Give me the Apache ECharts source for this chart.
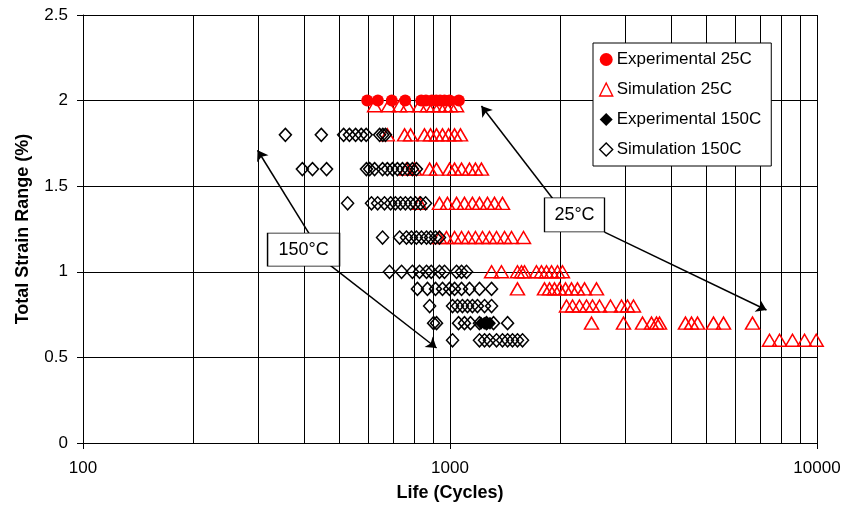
<!DOCTYPE html>
<html>
<head>
<meta charset="utf-8">
<script src="https://cdn.jsdelivr.net/npm/echarts@6/dist/echarts.min.js"></script>
<style>
html,body{margin:0;padding:0;background:#fff;}
#chart{width:849px;height:508px;}
</style>
</head>
<body>
<div id="chart"></div>
<script>
// ---------- data ----------
const seriesNames = ['Experimental 25C', 'Simulation 25C', 'Experimental 150C', 'Simulation 150C'];
const xMajorTicks = [100, 1000, 10000];
const xMinorGrid = [200, 300, 400, 500, 600, 700, 800, 900, 2000, 3000, 4000, 5000, 6000, 7000, 8000, 9000];

// Experimental 25C : strain 2.0 %
const exp25Strain = 2.0;
const exp25Life = [595, 636, 694, 755, 835, 860, 893, 917, 940, 966, 997, 1057];

// Simulation 25C : lives per strain level
const sim25Levels = [1.97, 1.8, 1.6, 1.4, 1.2, 1.0, 0.9, 0.8, 0.7, 0.6];
const sim25Life_197 = [623, 680, 729, 766, 826, 868, 902, 936, 972, 1003, 1042];
const sim25Life_18 = [675, 752, 781, 852, 885, 919, 954, 991, 1029, 1068];
const sim25Life_16 = [761, 800, 880, 919, 997, 1029, 1075, 1130, 1173, 1218];
const sim25Life_14 = [826, 936, 984, 1042, 1095, 1151, 1203, 1265, 1322, 1390];
const sim25Life_12 = [936, 978, 1029, 1075, 1123, 1173, 1226, 1281, 1339, 1408, 1471, 1586];
const sim25Life_10 = [1298, 1381, 1527, 1566, 1596, 1720, 1775, 1832, 1891, 1963, 2025];
const sim25Life_09 = [1527, 1809, 1867, 1926, 1988, 2064, 2143, 2225, 2326, 2507];
const sim25Life_08 = [2077, 2157, 2253, 2355, 2445, 2555, 2737, 2933, 3045, 3162];
const sim25Life_07 = [2430, 2970, 3346, 3540, 3653, 3723, 4381, 4550, 4725, 5224, 5563, 6672];
const sim25Life_06 = [7423, 7904, 8574, 9247, 9950];
const sim25Lives = [sim25Life_197, sim25Life_18, sim25Life_16, sim25Life_14, sim25Life_12,
                    sim25Life_10, sim25Life_09, sim25Life_08, sim25Life_07, sim25Life_06];

// Experimental 150C : strain 0.7 %
const exp150Strain = 0.7;
const exp150Life = [1215, 1240, 1265, 1285];

// Simulation 150C : lives per strain level
const sim150Levels = [1.8, 1.6, 1.4, 1.2, 1.0, 0.9, 0.8, 0.7, 0.6];
const sim150Life_18 = [356, 446, 513, 532, 553, 573, 591, 643, 656, 667];
const sim150Life_16 = [396, 422, 461, 592, 604, 623, 655, 675, 697, 719, 742, 766, 790, 810];
const sim150Life_14 = [526, 611, 635, 663, 689, 710, 733, 756, 781, 805, 831, 858];
const sim150Life_12 = [655, 729, 761, 785, 810, 836, 863, 885, 913, 936];
const sim150Life_10 = [684, 738, 790, 826, 863, 889, 936, 966, 1042, 1075, 1109];
const sim150Life_09 = [815, 868, 913, 954, 997, 1029, 1075, 1130, 1203, 1298];
const sim150Life_08 = [880, 1016, 1048, 1081, 1116, 1151, 1188, 1242, 1298];
const sim150Life_07 = [902, 919, 1055, 1095, 1137, 1203, 1257, 1314, 1435];
const sim150Life_06 = [1016, 1203, 1242, 1281, 1339, 1390, 1435, 1480, 1527, 1576];
const sim150Lives = [sim150Life_18, sim150Life_16, sim150Life_14, sim150Life_12, sim150Life_10,
                     sim150Life_09, sim150Life_08, sim150Life_07, sim150Life_06];

// annotations (data units: [life, strain])
const arrow150Up = [[414, 1.22], [299, 1.71]];
const arrow150Down = [[470, 1.04], [919, 0.555]];
const arrow25Up = [[1902, 1.43], [1218, 1.968]];
const arrow25Down = [[2636, 1.232], [7285, 0.777]];
const label150 = {text: '150°C', at: [399, 1.13]};
const label25 = {text: '25°C', at: [2184, 1.332]};

// ---------- build ----------
function pairs(lives, strain) { return lives.map(v => [v, strain]); }
function levelPairs(levels, lives) {
  let out = [];
  levels.forEach((s, i) => { out = out.concat(pairs(lives[i], s)); });
  return out;
}
const FONT = 'Liberation Sans, Arial, sans-serif';
const RED = '#FF0000';
const chart = echarts.init(document.getElementById('chart'), null, {renderer: 'canvas'});

const option = {
  animation: false,
  backgroundColor: '#fff',
  textStyle: {fontFamily: FONT, color: '#000'},
  grid: {left: 83, right: 32, top: 15, bottom: 65, containLabel: false},
  legend: {
    data: [
      {name: seriesNames[0], icon: 'circle', itemStyle: {color: RED, borderWidth: 0}},
      {name: seriesNames[1], icon: 'triangle', itemStyle: {color: 'rgba(0,0,0,0)', borderColor: RED, borderWidth: 1.4}},
      {name: seriesNames[2], icon: 'diamond', itemStyle: {color: '#000', borderWidth: 0}},
      {name: seriesNames[3], icon: 'diamond', itemStyle: {color: 'rgba(0,0,0,0)', borderColor: '#000', borderWidth: 1.4}}
    ],
    orient: 'vertical',
    left: 593, top: 43,
    padding: [8, 10, 8, 6],
    itemGap: 13,
    itemWidth: 13, itemHeight: 13,
    backgroundColor: '#fff',
    borderColor: '#000', borderWidth: 1, borderRadius: 0,
    selectedMode: false,
    textStyle: {fontFamily: FONT, fontSize: 17, color: '#000', lineHeight: 17, padding: [0, 0, 0, -1]}
  },
  xAxis: {
    type: 'log', logBase: 10, min: 100, max: 10000,
    name: 'Life (Cycles)', nameLocation: 'middle', nameGap: 41,
    nameTextStyle: {fontFamily: FONT, fontWeight: 'bold', fontSize: 18, color: '#000'},
    axisLine: {show: true, onZero: false, lineStyle: {color: '#000', width: 1}},
    axisTick: {show: true, length: 6, lineStyle: {color: '#000'}},
    axisLabel: {color: '#000', fontSize: 17, margin: 17, fontFamily: FONT,
      formatter: v => String(xMajorTicks.find(t => Math.abs(t - v) / t < 1e-6) || Math.round(v))},
    splitLine: {show: true, lineStyle: {color: '#000', width: 1}}
  },
  yAxis: {
    type: 'value', min: 0, max: 2.5, interval: 0.5,
    name: 'Total Strain Range (%)', nameLocation: 'middle', nameGap: 51,
    nameTextStyle: {fontFamily: FONT, fontWeight: 'bold', fontSize: 18, color: '#000'},
    axisLine: {show: true, onZero: false, lineStyle: {color: '#000', width: 1}},
    axisTick: {show: true, length: 6, lineStyle: {color: '#000'}},
    axisLabel: {color: '#000', fontSize: 17, margin: 15, fontFamily: FONT},
    splitLine: {show: true, lineStyle: {color: '#000', width: 1}}
  },
  series: [
    {
      name: '_grid', type: 'scatter', data: [], silent: true, z: 1,
      markLine: {
        silent: true, z: 1, symbol: 'none', animation: false,
        label: {show: false},
        lineStyle: {color: '#000', width: 1, type: 'solid'},
        emphasis: {disabled: true},
        data: xMinorGrid.map(v => ({xAxis: v}))
      }
    },
    {
      name: seriesNames[0], type: 'scatter', symbol: 'circle', symbolSize: 12, z: 3,
      itemStyle: {color: RED, opacity: 1},
      data: pairs(exp25Life, exp25Strain)
    },
    {
      name: seriesNames[1], type: 'scatter', symbol: 'triangle', symbolSize: [14, 12], z: 3,
      itemStyle: {color: 'rgba(0,0,0,0)', borderColor: RED, borderWidth: 1.5, opacity: 1},
      data: levelPairs(sim25Levels, sim25Lives)
    },
    {
      name: seriesNames[2], type: 'scatter', symbol: 'diamond', symbolSize: [12, 13], z: 3,
      itemStyle: {color: '#000', opacity: 1},
      data: pairs(exp150Life, exp150Strain)
    },
    {
      name: seriesNames[3], type: 'scatter', symbol: 'diamond', symbolSize: [12, 13], z: 3,
      itemStyle: {color: 'rgba(0,0,0,0)', borderColor: '#000', borderWidth: 1.5, opacity: 1},
      data: levelPairs(sim150Levels, sim150Lives)
    },
    {
      name: '_arrows', type: 'scatter', data: [], silent: true, z: 5,
      markLine: {
        silent: true, z: 5, symbol: ['none', 'arrow'], symbolSize: 10,
        label: {show: false},
        lineStyle: {color: '#000', width: 1.5, type: 'solid'},
        emphasis: {disabled: true},
        data: [arrow150Up, arrow150Down, arrow25Up, arrow25Down].map(a => [{coord: a[0]}, {coord: a[1]}])
      }
    },
    {
      name: '_labels', type: 'scatter', data: [], silent: true, z: 6,
      markPoint: {
        silent: true, z: 6, symbol: 'rect',
        itemStyle: {color: '#fff', borderColor: '#000', borderWidth: 1},
        label: {show: true, position: 'inside', formatter: '{b}', color: '#000', fontSize: 18, fontFamily: FONT},
        emphasis: {disabled: true},
        data: [
          {name: label150.text, coord: label150.at, symbolSize: [72, 33]},
          {name: label25.text, coord: label25.at, symbolSize: [60, 34]}
        ]
      }
    }
  ]
};
chart.setOption(option);
</script>
</body>
</html>
